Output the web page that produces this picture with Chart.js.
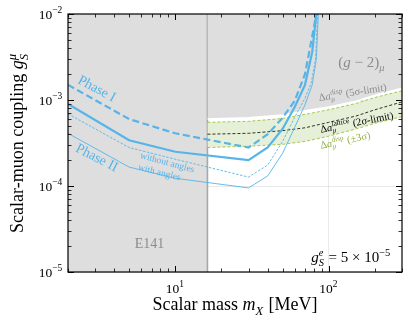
<!DOCTYPE html>
<html>
<head>
<meta charset="utf-8">
<script src="https://cdn.jsdelivr.net/npm/chart.js@4.4.1/dist/chart.umd.min.js"></script>
<style>
	html, body { margin: 0; padding: 0; background: #fff; }
	#wrap { position: relative; width: 411px; height: 326px; }
</style>
</head>
<body>
<div id="wrap"><canvas id="chart" width="411" height="326"></canvas></div>
<script>
// axis ranges and tick labels
const xRange = [2, 300];
const yRange = [1e-5, 1e-2];
const xMajorTicks = [10, 100];
const xTickExponents = ["1", "2"];
const yMajorTicks = [1e-2, 1e-3, 1e-4, 1e-5];
const yTickExponents = ["\u22122", "\u22123", "\u22124", "\u22125"];

// E141 excluded region (scalar mass below this value)
const e141Edge = 16.2;

// muon g-2 curves
const bandMass = [16.2, 30, 50, 70, 100, 150, 200, 300];
const limit5Sigma = [6.0e-4, 6.2e-4, 6.7e-4, 7.5e-4, 8.3e-4, 9.7e-4, 1.14e-3, 1.37e-3];
const dispUpper = [5.5e-4, 5.65e-4, 6.1e-4, 6.8e-4, 7.7e-4, 9.1e-4, 1.07e-3, 1.28e-3];
const latticeCentral = [4.0e-4, 4.1e-4, 4.4e-4, 4.75e-4, 5.5e-4, 6.5e-4, 7.7e-4, 9.5e-4];
const dispLower = [2.8e-4, 2.9e-4, 3.05e-4, 3.3e-4, 3.8e-4, 4.6e-4, 5.35e-4, 6.4e-4];

// sensitivity curves
const phase1Mass = [2, 5, 10, 30, 40, 50, 60, 70, 78, 83];
const phase1Coupling = [1.5e-3, 6.0e-4, 4.1e-4, 2.8e-4, 4.0e-4, 6.2e-4, 9.8e-4, 2.0e-3, 5.5e-3, 1.0e-2];
const phase2Mass = [2, 5, 10, 30, 40, 50, 60, 70, 78, 83];
const phase2Coupling = [9.0e-4, 3.4e-4, 2.5e-4, 2.0e-4, 2.8e-4, 4.6e-4, 8.3e-4, 1.5e-3, 3.6e-3, 1.0e-2];
const noAnglesMass = [2, 5, 10, 30, 40, 50, 60, 70, 77, 82, 84.5];
const noAnglesCoupling = [6.9e-4, 2.8e-4, 2.05e-4, 1.27e-4, 1.75e-4, 3.3e-4, 6.3e-4, 1.05e-3, 1.6e-3, 3.0e-3, 1.0e-2];
const withAnglesMass = [2, 5, 10, 30, 40, 50, 60, 70, 78, 83, 85.5];
const withAnglesCoupling = [4.1e-4, 1.66e-4, 1.23e-4, 9.5e-5, 1.31e-4, 2.4e-4, 4.8e-4, 8.8e-4, 1.5e-3, 3.0e-3, 1.0e-2];

const BLUE = "#56b4e9";
const GREY = "#dedede";
const FONT = '"Liberation Serif", "DejaVu Serif", serif';

const pts = (xs, ys) => xs.map((x, i) => ({ x: x, y: ys[i] }));

// ---- rich text: plain / italic runs plus super- and subscripts ----
function font_for(size, italic) {
	return (italic ? "italic " : "") + size + "px " + FONT;
}

function layout_rich(ctx, parts, size) {
	let w = 0;
	const items = [];
	parts.forEach((p) => {
		if (p.sup !== undefined || p.sub !== undefined) {
			const s = size * 0.7;
			let ws = 0, wb = 0;
			if (p.sup !== undefined) {
				ctx.font = font_for(s, p.supI);
				ws = ctx.measureText(p.sup).width;
				items.push({ t: p.sup, x: w, dy: -size * 0.4, font: ctx.font });
			}
			if (p.sub !== undefined) {
				ctx.font = font_for(s, p.subI);
				wb = ctx.measureText(p.sub).width;
				items.push({ t: p.sub, x: w, dy: size * 0.24, font: ctx.font });
			}
			w += Math.max(ws, wb) + size * 0.05;
		} else {
			ctx.font = font_for(size, p.i);
			items.push({ t: p.t, x: w, dy: 0, font: ctx.font });
			w += ctx.measureText(p.t).width;
		}
	});
	return { w, items };
}

function draw_rich(ctx, parts, x, y, o) {
	ctx.save();
	ctx.translate(x, y);
	if (o.angle) ctx.rotate((o.angle * Math.PI) / 180);
	const L = layout_rich(ctx, parts, o.size);
	const x0 = o.align === "center" ? -L.w / 2 : o.align === "right" ? -L.w : 0;
	ctx.fillStyle = o.color || "#000";
	ctx.textAlign = "left";
	ctx.textBaseline = "alphabetic";
	L.items.forEach((it) => {
		ctx.font = it.font;
		ctx.fillText(it.t, x0 + it.x, it.dy + o.size * 0.35);
	});
	ctx.restore();
}

// text annotations, anchored (centre) in data coordinates
const annotations = [
	{ parts: [{ t: "Phase I" }], x: 3.1, y: 1.38e-3, size: 14, angle: 28, color: BLUE },
	{ parts: [{ t: "Phase II" }], x: 3.1, y: 2.17e-4, size: 14, angle: 27, color: BLUE },
	{ parts: [{ t: "without angles" }], x: 8.9, y: 1.9e-4, size: 9.5, angle: 15, color: BLUE },
	{ parts: [{ t: "with angles" }], x: 7.9, y: 1.46e-4, size: 9.5, angle: 14, color: BLUE },
	{ parts: [{ t: "E141" }], x: 6.8, y: 2.17e-5, size: 14, angle: 0, color: "#8c8c8c" },
	{ parts: [{ t: "(" }, { t: "g", i: 1 }, { t: " \u2212 2)" }, { sub: "\u03bc", subI: 1 }], x: 164, y: 2.77e-3, size: 15, angle: 0, color: "#8c8c8c" },
	{ parts: [{ t: "\u0394" }, { t: "a", i: 1 }, { sup: "disp", sub: "\u03bc", subI: 1 }, { t: " (5\u03c3-limit)" }], x: 143, y: 1.24e-3, size: 10.5, angle: -9, color: "#8c8c8c" },
	{ parts: [{ t: "\u0394" }, { t: "a", i: 1 }, { sup: "lattice", sub: "\u03bc", subI: 1 }, { t: " (2\u03c3-limit)" }], x: 152, y: 5.55e-4, size: 10.5, angle: -11, color: "#000" },
	{ parts: [{ t: "\u0394" }, { t: "a", i: 1 }, { sup: "disp", sub: "\u03bc", subI: 1 }, { t: " (\u00b13\u03c3)" }], x: 128, y: 3.43e-4, size: 10.5, angle: -12, color: "#8db33a" },
	{ parts: [{ t: "g", i: 1 }, { sup: "e", supI: 1, sub: "S", subI: 1 }, { t: " = 5 \u00d7 10" }, { sup: "\u22125" }], x: 140, y: 1.49e-5, size: 15, angle: 0, color: "#000" },
];

const is_decade = (v) => Math.abs(Math.log10(v) - Math.round(Math.log10(v))) < 1e-6;

function minor_values(lo, hi) {
	const out = [];
	for (let e = Math.floor(Math.log10(lo)); e <= Math.ceil(Math.log10(hi)); e++) {
		for (let k = 1; k < 10; k++) {
			const v = k * Math.pow(10, e);
			if (v >= lo * 0.999 && v <= hi * 1.001) out.push(v);
		}
	}
	return out;
}

const decorations = {
	id: "decorations",
	afterDraw(chart) {
		const ctx = chart.ctx;
		const a = chart.chartArea;
		const xs = chart.scales.x;
		const ys = chart.scales.y;
		ctx.save();

		// inward ticks on all four sides
		ctx.strokeStyle = "#000";
		minor_values(xRange[0], xRange[1]).forEach((v) => {
			const px = Math.round(xs.getPixelForValue(v)) + 0.5;
			const len = is_decade(v) ? 6 : 3.5;
			ctx.lineWidth = is_decade(v) ? 1 : 0.8;
			ctx.beginPath();
			ctx.moveTo(px, a.bottom); ctx.lineTo(px, a.bottom - len);
			ctx.moveTo(px, a.top); ctx.lineTo(px, a.top + len);
			ctx.stroke();
		});
		minor_values(yRange[0], yRange[1]).forEach((v) => {
			const py = Math.round(ys.getPixelForValue(v)) + 0.5;
			const len = is_decade(v) ? 6 : 3.5;
			ctx.lineWidth = is_decade(v) ? 1 : 0.8;
			ctx.beginPath();
			ctx.moveTo(a.left, py); ctx.lineTo(a.left + len, py);
			ctx.moveTo(a.right, py); ctx.lineTo(a.right - len, py);
			ctx.stroke();
		});

		// frame
		ctx.lineWidth = 1.2;
		ctx.strokeRect(a.left, a.top, a.right - a.left, a.bottom - a.top);

		// tick labels
		xMajorTicks.forEach((v, i) => {
			draw_rich(ctx, [{ t: "10" }, { sup: xTickExponents[i] }], xs.getPixelForValue(v), a.bottom + 16, { size: 13.5, align: "center" });
		});
		yMajorTicks.forEach((v, i) => {
			draw_rich(ctx, [{ t: "10" }, { sup: yTickExponents[i] }], a.left - 5, ys.getPixelForValue(v), { size: 13.5, align: "right" });
		});

		// axis titles
		draw_rich(ctx, [{ t: "Scalar mass " }, { t: "m", i: 1 }, { sub: "X", subI: 1 }, { t: " [MeV]" }],
			(a.left + a.right) / 2, 304, { size: 18, align: "center" });
		draw_rich(ctx, [{ t: "Scalar-muon coupling " }, { t: "g", i: 1 }, { sup: "\u03bc", supI: 1, sub: "S", subI: 1 }],
			17, (a.top + a.bottom) / 2, { size: 18, align: "center", angle: -90 });

		// annotations
		annotations.forEach((n) => {
			draw_rich(ctx, n.parts, xs.getPixelForValue(n.x), ys.getPixelForValue(n.y), Object.assign({ align: "center" }, n));
		});
		ctx.restore();
	},
};

const line = (data, color, width, dash, order) => ({
	data: data,
	borderColor: color,
	borderWidth: width,
	borderDash: dash || [],
	pointRadius: 0,
	fill: false,
	tension: 0,
	order: order,
});

new Chart(document.getElementById("chart"), {
	type: "line",
	data: {
		datasets: [
			line(pts(phase1Mass, phase1Coupling), BLUE, 2.2, [7, 3.5], 0),
			line(pts(phase2Mass, phase2Coupling), BLUE, 2.2, null, 1),
			line(pts(noAnglesMass, noAnglesCoupling), BLUE, 0.9, [2.5, 1.5], 2),
			line(pts(withAnglesMass, withAnglesCoupling), BLUE, 0.9, null, 3),
			// 4: lattice central, 5: band upper edge, 6: band lower edge (filled to 5)
			line(pts(bandMass, latticeCentral), "#000", 0.8, [3, 2], 4),
			line(pts(bandMass, dispUpper), "#9cc23c", 0.9, [3, 2], 5),
			Object.assign(line(pts(bandMass, dispLower), "#9cc23c", 0.9, [3, 2], 6), {
				fill: { target: 5 },
				backgroundColor: "#e6f0d8",
			}),
			Object.assign(line(pts(bandMass, limit5Sigma), "#ffffff", 1.5, null, 7), {
				fill: "end",
				backgroundColor: GREY,
			}),
			line(pts([e141Edge, e141Edge], [yRange[0], yRange[1]]), "#a8a8a8", 1.6, null, 8),
			Object.assign(line(pts([xRange[0], e141Edge], [yRange[1], yRange[1]]), "rgba(0,0,0,0)", 0, null, 9), {
				fill: "start",
				backgroundColor: GREY,
			}),
		],
	},
	options: {
		responsive: false,
		animation: false,
		layout: { padding: { top: 14, right: 9, left: 0, bottom: 0 } },
		plugins: { legend: { display: false }, tooltip: { enabled: false } },
		scales: {
			x: {
				type: "logarithmic",
				min: xRange[0],
				max: xRange[1],
				ticks: { display: false },
				border: { display: false },
				grid: {
					drawTicks: false,
					color: (c) => (c.tick && is_decade(c.tick.value) ? "rgba(200,200,200,0.5)" : "rgba(0,0,0,0)"),
					lineWidth: 0.8,
				},
				afterFit: (s) => { s.height = 54; },
			},
			y: {
				type: "logarithmic",
				min: yRange[0],
				max: yRange[1],
				ticks: { display: false },
				border: { display: false },
				grid: {
					drawTicks: false,
					color: (c) => (c.tick && is_decade(c.tick.value) ? "rgba(200,200,200,0.5)" : "rgba(0,0,0,0)"),
					lineWidth: 0.8,
				},
				afterFit: (s) => { s.width = 68; },
			},
		},
	},
	plugins: [decorations],
});
</script>
</body>
</html>
